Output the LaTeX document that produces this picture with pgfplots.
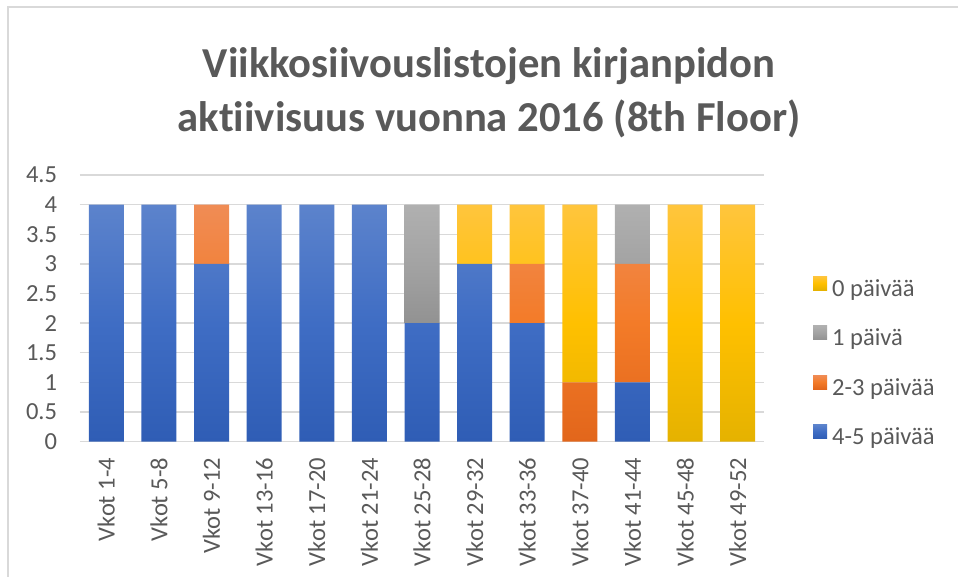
\documentclass[border=0pt]{standalone}
\usepackage{fontspec}
\setmainfont{Carlito}[Ligatures=NoCommon]
\usepackage{pgfplots}
\usepackage{pgfplotstable}
\pgfplotsset{compat=1.18}
\definecolor{txtgray}{HTML}{595959}
\definecolor{gridgray}{HTML}{D9D9D9}
\definecolor{blueT}{HTML}{5C83CC}
\definecolor{blueM}{HTML}{3F6DC4}
\definecolor{blueB}{HTML}{2F5DB5}
\definecolor{orT}{HTML}{F08C55}
\definecolor{orM}{HTML}{F37B28}
\definecolor{orB}{HTML}{E2661B}
\definecolor{grT}{HTML}{B0B0B0}
\definecolor{grM}{HTML}{A3A3A3}
\definecolor{grB}{HTML}{929292}
\definecolor{goT}{HTML}{FFC53D}
\definecolor{goM}{HTML}{FFC000}
\definecolor{goB}{HTML}{E5B200}
\pgfplotstableread{
x b45 b23 b1 b0
0 4 0 0 0
1 4 0 0 0
2 3 1 0 0
3 4 0 0 0
4 4 0 0 0
5 4 0 0 0
6 2 0 2 0
7 3 0 0 1
8 2 1 0 1
9 0 1 0 3
10 1 2 1 0
11 0 0 0 4
12 0 0 0 4
}\datatable
\begin{document}
\begin{tikzpicture}
\useasboundingbox (0,0) rectangle (718.5pt,432.75pt);
\begin{axis}[
  at={(60pt,101.5pt)}, anchor=south west,
  scale only axis, width=513pt, height=200pt,
  ybar stacked, bar width=26.25pt,
  xmin=-0.5, xmax=12.5, ymin=0, ymax=4.5,
  ytick={0,0.5,...,4.5},
  xtick={0,...,12},
  xticklabels={Vkot 1-4,Vkot 5-8,Vkot 9-12,Vkot 13-16,Vkot 17-20,Vkot 21-24,Vkot 25-28,Vkot 29-32,Vkot 33-36,Vkot 37-40,Vkot 41-44,Vkot 45-48,Vkot 49-52},
  axis line style={draw=none},
  major tick length=0pt,
  tick style={draw=none},
  ymajorgrids, grid style={gridgray, line width=1pt},
  /pgf/number format/assume math mode=true,
  ticklabel style={font=\fontsize{18.4}{22}\selectfont, text=txtgray},
  yticklabel style={inner sep=0pt},
  yticklabel shift=17pt,
  xticklabel style={rotate=90, anchor=east, inner sep=0pt},
  xticklabel shift=12pt,
  reverse legend,
  legend cell align=left,
  legend style={at={(1.0716,0.297)}, anchor=west, draw=none, fill=none,
    font=\fontsize{18.4}{22}\selectfont, text=txtgray, inner sep=0pt,
    row sep=19pt,
    nodes={inner sep=0pt, text height=11pt, text depth=3pt},
    /tikz/every odd column/.append style={column sep=3.75pt}},
  legend image code/.code={\path[#1, draw=none] (0pt,0.6pt) rectangle (10.5pt,11.1pt);},
]
\addplot[draw=none, top color=blueT, bottom color=blueB, middle color=blueM] table[x=x, y=b45] {\datatable};
\addplot[draw=none, top color=orT, bottom color=orB, middle color=orM] table[x=x, y=b23] {\datatable};
\addplot[draw=none, top color=grT, bottom color=grB, middle color=grM] table[x=x, y=b1] {\datatable};
\addplot[draw=none, top color=goT, bottom color=goB, middle color=goM] table[x=x, y=b0] {\datatable};
\legend{4-5 päivää,2-3 päivää,1 päivä,0 päivää}
\end{axis}
\draw[gridgray, line width=1.1pt] (6pt,0) -- (6pt,427.5pt) -- (718.5pt,427.5pt);
\node[anchor=base, font=\bfseries\fontsize{32}{38}\selectfont, text=txtgray] at (366.75pt,374.25pt) {Viikkosiivouslistojen kirjanpidon};
\node[anchor=base, font=\bfseries\fontsize{32}{38}\selectfont, text=txtgray] at (366.75pt,334pt) {aktiivisuus vuonna 2016 (8th Floor)};
\end{tikzpicture}
\end{document}
